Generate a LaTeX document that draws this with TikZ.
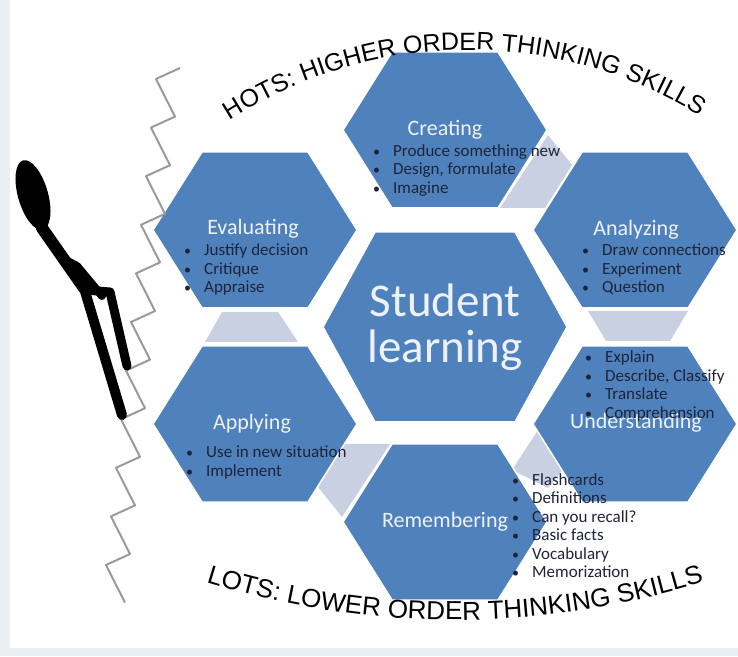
\documentclass[tikz,border=0pt]{standalone}
\usepackage{fontspec}
\setmainfont{Carlito}
\newfontfamily\arcfont{Liberation Sans}
\usetikzlibrary{decorations.text}
\definecolor{hexblue}{HTML}{4F81BD}
\definecolor{linkgray}{HTML}{C9D0E2}
\definecolor{itemtext}{HTML}{1E2438}
\definecolor{headtext}{HTML}{EEF2F8}
\definecolor{framegray}{HTML}{ECEFF2}
\definecolor{stairgray}{HTML}{9A9A9A}
\tikzset{
  hexa/.style={fill=hexblue, draw=white, line width=1.5pt},
  link/.style={fill=linkgray},
  head/.style={text=headtext, font=\fontsize{22}{24}\selectfont, inner sep=0pt},
  items/.style={text=itemtext, font=\fontsize{17}{18.5}\selectfont, align=left,
                anchor=west, inner sep=0pt},
  stair/.style={draw=stairgray, line width=2pt, line join=round},
  limb/.style={draw=black, line cap=round, line join=round},
}
% hexagon round a named centre: half width, half height, half top edge
\newcommand\hexcell[4]{\path[hexa] (#1) +(-#2,0) -- +(-#4,#3) -- +(#4,#3)
  -- +(#2,0) -- +(#4,-#3) -- +(-#4,-#3) -- cycle;}
\newcommand\bul{\makebox[20pt][l]{\fontsize{14}{14}\selectfont\textbullet}}

\begin{document}
\begin{tikzpicture}[x=1pt, y=1pt]
  \useasboundingbox (0,0) rectangle (738,656);
  \fill[framegray] (0,0) rectangle (10,656);
  \fill[framegray] (0,0) rectangle (738,8);

  % centres of the cells
  \coordinate (student) at (445,329);
  \coordinate (creating) at (445,526);
  \coordinate (evaluating) at (255,426);
  \coordinate (analyzing) at (635,426);
  \coordinate (applying) at (255,232);
  \coordinate (understanding) at (635,232);
  \coordinate (remembering) at (445,134);

  % light links between neighbours
  \fill[link] (548,521) -- (572,491) -- (545,448) -- (500,448) -- cycle;
  \fill[link] (588,345) -- (688,345) -- (670,315) -- (606,315) -- cycle;
  \fill[link] (222,344) -- (278,344) -- (298,314) -- (205,314) -- cycle;
  \fill[link] (342,139) -- (318,169) -- (345,212) -- (390,212) -- cycle;
  \fill[link] (540,229) -- (566,190) -- (548,168) -- (512,186) -- cycle;

  \hexcell{student}{122}{95}{70}
  \hexcell{creating}{102}{78}{53}
  \hexcell{evaluating}{102}{78}{53}
  \hexcell{analyzing}{102}{78}{53}
  \hexcell{applying}{102}{78}{53}
  \hexcell{understanding}{102}{78}{53}
  \hexcell{remembering}{102}{78}{53}

  % stairs and climber
  \coordinate (stairtop) at (180,588);
  \draw[stair] (stairtop) \foreach \s in {0,...,10} { -- ++(-24,-11) -- ++(19,-37.6) };
  \fill[black, rotate around={16:(33,461)}] (33,461) ellipse[x radius=15, y radius=36];
  \draw[limb, line width=12pt] (42,428) -- (84,368);
  \draw[limb, line width=10pt] (84,368) -- (122,241);
  \draw[limb, line width=9pt] (85,366) -- (110,364) -- (127,290);
  \draw[limb, line width=8pt] (62,398) -- (77,390) -- (102,360);

  % texts
  \node[head, font=\fontsize{47}{46}\selectfont, align=center] (student-t) at (student) {Student\\learning};
  \node[head] (creating-t) at (creating) {Creating};
  \node[head] (evaluating-t) at (253,427) {Evaluating};
  \node[head] (analyzing-t) at (636,426) {Analyzing};
  \node[head] (applying-t) at (252,232) {Applying};
  \node[head] (understanding-t) at (636,233) {Understanding};
  \node[head] (remembering-t) at (remembering) {Remembering};

  \node[items] (creating-l) at (373,485.5)
    {\bul Produce something new\\ \bul Design, formulate\\ \bul Imagine};
  \node[items] (evaluating-l) at (184,386.5)
    {\bul Justify decision\\ \bul Critique\\ \bul Appraise};
  \node[items] (analyzing-l) at (582,386.5)
    {\bul Draw connections\\ \bul Experiment\\ \bul Question};
  \node[items] (understanding-l) at (585,270)
    {\bul Explain\\ \bul Describe, Classify\\ \bul Translate\\ \bul Comprehension};
  \node[items] (applying-l) at (186,193.5)
    {\bul Use in new situation\\ \bul Implement};
  \node[items] (remembering-l) at (512,130.5)
    {\bul Flashcards\\ \bul Definitions\\ \bul Can you recall?\\ \bul Basic facts\\
     \bul Vocabulary\\ \bul Memorization};

  % curved captions
  \coordinate (hots) at (468,166);
  \coordinate (lots) at (455,871);
  \path[decorate, decoration={text along path, text align=center,
      text={|\arcfont\fontsize{25}{25}\selectfont|HOTS: HIGHER ORDER THINKING SKILLS}}]
    ([shift={(124:440)}]hots) arc[start angle=124, end angle=57, radius=440];
  \path[decorate, decoration={text along path, text align=center,
      text={|\arcfont\fontsize{26}{26}\selectfont|LOTS: LOWER ORDER THINKING SKILLS}}]
    ([shift={(252:835)}]lots) arc[start angle=252, end angle=288, radius=835];
\end{tikzpicture}
\end{document}
